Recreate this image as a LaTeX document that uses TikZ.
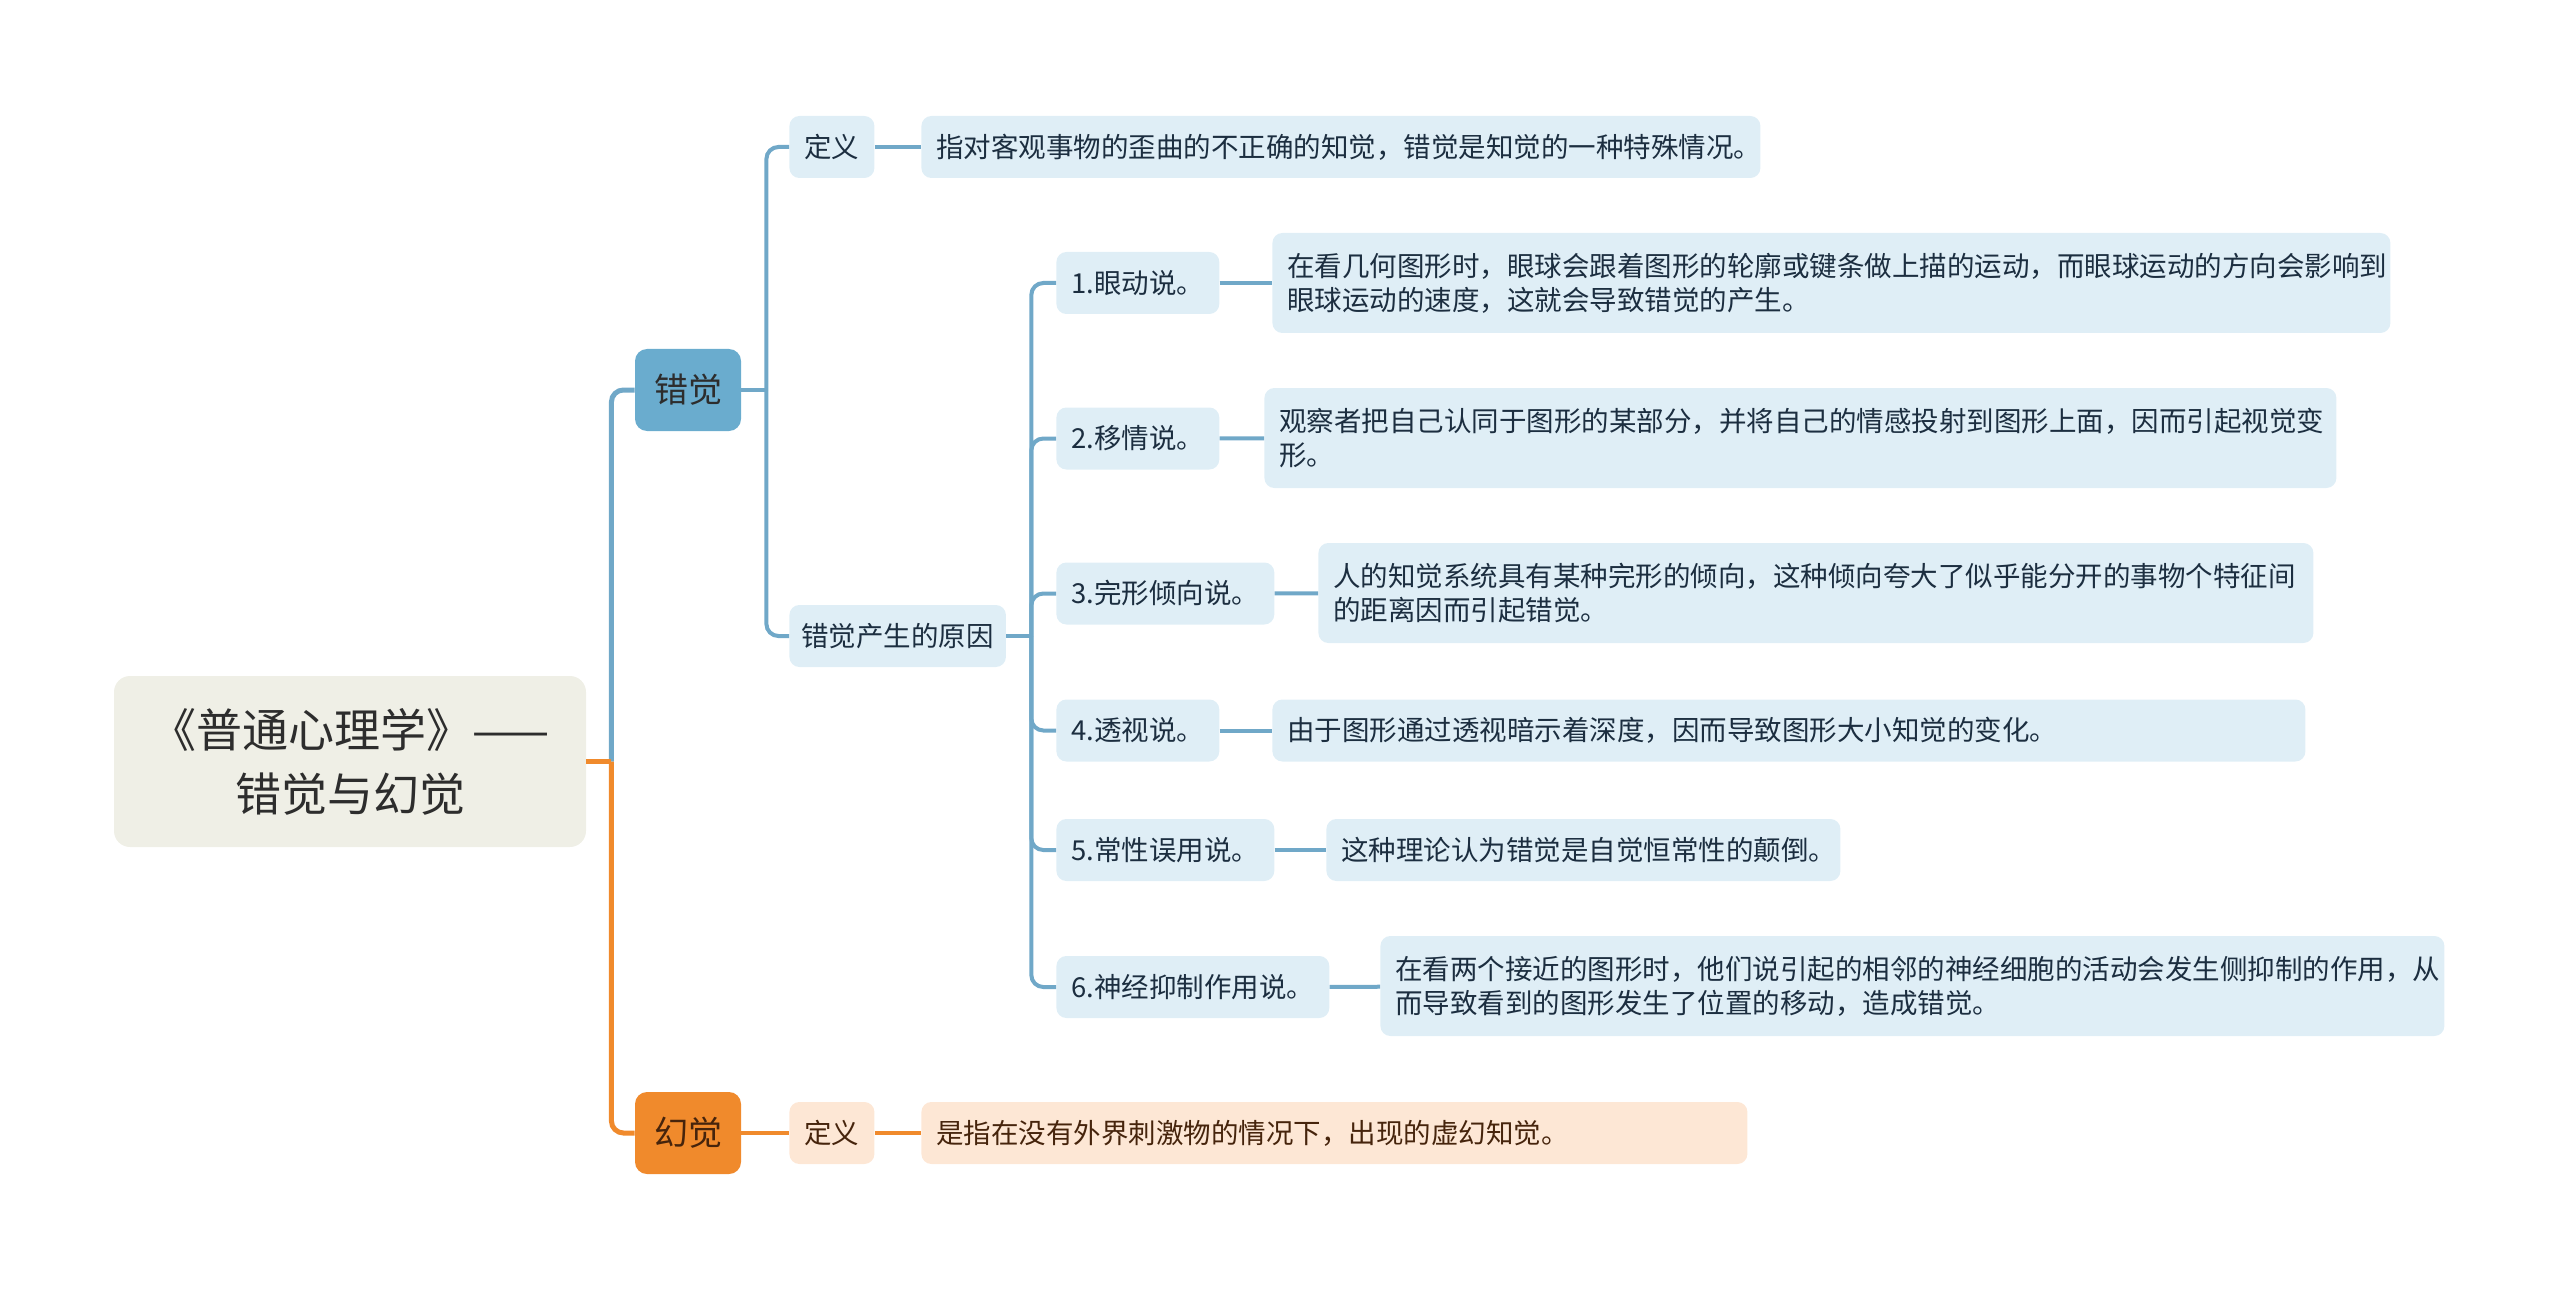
\documentclass[tikz,border=0pt]{standalone}
\usepackage{fontspec}
\setmainfont{Noto Sans CJK SC}
\usepackage{tikz}
\usetikzlibrary{positioning}
\definecolor{RootFill}{RGB}{239,239,230}
\definecolor{BranchBlue}{RGB}{106,172,206}
\definecolor{LineBlue}{RGB}{112,168,200}
\definecolor{PaleBlue}{RGB}{223,238,246}
\definecolor{BranchOrange}{RGB}{240,138,44}
\definecolor{PaleOrange}{RGB}{253,231,213}
\definecolor{InkDark}{RGB}{45,45,45}
\definecolor{InkBlue}{RGB}{28,46,64}
\definecolor{InkBrown}{RGB}{70,36,12}

\begin{document}
\begin{tikzpicture}[
            x=0.5pt, y=-0.5pt,
            root/.style={fill=RootFill, rounded corners=8pt, minimum width=236pt, minimum height=85.5pt, align=center, text=InkDark, font=\fontsize{23}{32}\selectfont},
            topic/.style={rounded corners=6pt, minimum width=53pt, minimum height=41pt, inner sep=0pt, font=\fontsize{17}{20}\selectfont},
            illtopic/.style={topic, fill=BranchBlue, text=InkDark},
            haltopic/.style={topic, fill=BranchOrange, text=InkBrown},
            tag/.style={rounded corners=5pt, minimum height=31pt, inner xsep=7.5pt, anchor=west, font=\fontsize{13.75}{17}\selectfont},
            tagblue/.style={tag, fill=PaleBlue, text=InkBlue}, % light blue labels
            tagorange/.style={tag, fill=PaleOrange, text=InkBrown}, % light orange labels
            leaf/.style={rounded corners=5pt, minimum height=31pt, inner xsep=7.5pt, inner ysep=7pt, align=left, anchor=west, font=\fontsize{13.75}{17}\selectfont},
            twolines/.style={minimum height=50pt},
            leafblue/.style={leaf, fill=PaleBlue, text=InkBlue},
            leaforange/.style={leaf, fill=PaleOrange, text=InkBrown},
            link/.style={line width=2pt, rounded corners=6pt}
        ]
        \useasboundingbox (0,0) rectangle (2560,1289);

        % --- ROOT ---
        \node[root] (root) at (350,761.5) {《普通心理学》——\\错觉与幻觉};

        % --- MAIN BRANCHES ---
        \node[illtopic] (ill) at (688,390) {错觉};
        \node[haltopic] (hal) at (688,1133) {幻觉};

        % --- 错觉: definition and causes ---
        \node[tagblue] (ill_def) at (789,147) {定义};
        \node[leafblue, text width=404.5pt] (ill_def_txt) at (921,147) {指对客观事物的歪曲的不正确的知觉，错觉是知觉的一种特殊情况。};
        \node[tagblue, inner xsep=6pt] (cause) at (789,636) {错觉产生的原因};

        % theories
        \node[tagblue] (eye) at (1056,283) {1.眼动说。};
        \node[tagblue] (empathy) at (1056,438.5) {2.移情说。};
        \node[tagblue] (gestalt) at (1056,593.5) {3.完形倾向说。};
        \node[tagblue] (persp) at (1056,730.5) {4.透视说。};
        \node[tagblue] (const) at (1056,850) {5.常性误用说。};
        \node[tagblue] (inhib) at (1056,987) {6.神经抑制作用说。};

        \node[leafblue, twolines, text width=544pt] (eye_txt) at (1272,283) {在看几何图形时，眼球会跟着图形的轮廓或键条做上描的运动，而眼球运动的方向会影响到\\眼球运动的速度，这就会导致错觉的产生。};
        \node[leafblue, twolines, text width=521pt] (empathy_txt) at (1264,438) {观察者把自己认同于图形的某部分，并将自己的情感投射到图形上面，因而引起视觉变\\形。};
        \node[leafblue, twolines, text width=482.5pt] (gestalt_txt) at (1318,593) {人的知觉系统具有某种完形的倾向，这种倾向夸大了似乎能分开的事物个特征间\\的距离因而引起错觉。};
        \node[leafblue, text width=501.5pt] (persp_txt) at (1272,730.5) {由于图形通过透视暗示着深度，因而导致图形大小知觉的变化。};
        \node[leafblue, text width=242pt] (const_txt) at (1326,850) {这种理论认为错觉是自觉恒常性的颠倒。};
        \node[leafblue, twolines, text width=517pt] (inhib_txt) at (1380,986) {在看两个接近的图形时，他们说引起的相邻的神经细胞的活动会发生侧抑制的作用，从\\而导致看到的图形发生了位置的移动，造成错觉。};

        % --- 幻觉: definition ---
        \node[tagorange] (hal_def) at (789,1133) {定义};
        \node[leaforange, text width=398pt] (hal_def_txt) at (921,1133) {是指在没有外界刺激物的情况下，出现的虚幻知觉。};

        % --- CONNECTORS ---
        \coordinate (t0) at ([xshift=12.5pt]root.east);
        \coordinate (t1) at ([xshift=12.5pt]ill.east);
        \coordinate (t2) at ([xshift=12.5pt]cause.east);

        \draw[link, LineBlue, line width=2.5pt] (t0) |- (ill.west);
        \draw[link, BranchOrange, line width=2.5pt] (t0) |- (hal.west);
        \draw[BranchOrange, line width=2.5pt] (root.east) -- (t0);

        \draw[link, LineBlue] (ill.east) -- (t1);
        \draw[link, LineBlue] (t1) |- (ill_def.west);
        \draw[link, LineBlue] (t1) |- (cause.west);
        \draw[link, LineBlue] (ill_def) -- (ill_def_txt);

        \draw[link, LineBlue] (cause.east) -- (t2);
        \draw[link, LineBlue] (t2) |- (eye.west);
        \draw[link, LineBlue] (t2) |- (empathy.west);
        \draw[link, LineBlue] (t2) |- (gestalt.west);
        \draw[link, LineBlue] (t2) |- (persp.west);
        \draw[link, LineBlue] (t2) |- (const.west);
        \draw[link, LineBlue] (t2) |- (inhib.west);

        \draw[LineBlue, line width=2pt] (eye) -- (eye_txt);
        \draw[LineBlue, line width=2pt] (empathy) -- (empathy_txt);
        \draw[LineBlue, line width=2pt] (gestalt) -- (gestalt_txt);
        \draw[LineBlue, line width=2pt] (persp) -- (persp_txt);
        \draw[LineBlue, line width=2pt] (const) -- (const_txt);
        \draw[LineBlue, line width=2pt] (inhib) -- (inhib_txt);

        \draw[BranchOrange, line width=2pt] (hal) -- (hal_def);
        \draw[BranchOrange, line width=2pt] (hal_def) -- (hal_def_txt);

        \end{tikzpicture}
\end{document}
